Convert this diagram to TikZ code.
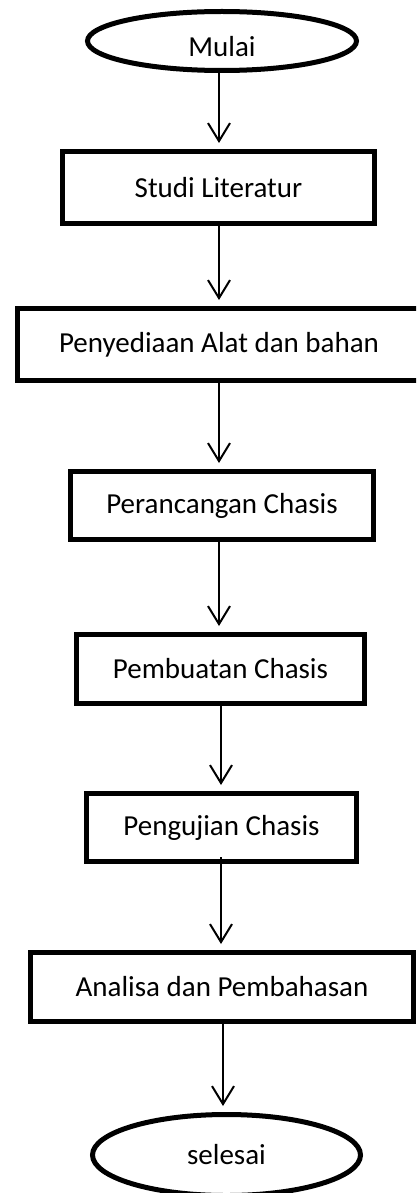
\documentclass[tikz,border=0pt]{standalone}
\usepackage{fontspec}
\setmainfont{Carlito}
\usetikzlibrary{arrows.meta,shapes.geometric}
\begin{document}
\begin{tikzpicture}[x=1pt,y=-1pt,
  label font/.style={font=\fontsize{29}{34}\selectfont},
  stepbox/.style={draw, rectangle, line width=5pt, inner sep=0pt, label font},
  terminal/.style={draw, ellipse, line width=5pt, inner sep=0pt, label font},
  flow/.style={line width=2pt, -{Straight Barb[length=18pt,width=22pt]}, shorten >=6pt}]
  \clip (0,0) rectangle (416,1193);
  \useasboundingbox (0,0) rectangle (416,1193);

  % vertical guide lines for the connectors
  \coordinate (axA) at (219,0);
  \coordinate (axB) at (221,0);
  \coordinate (axC) at (223,0);

  % terminals and process steps
  \node[terminal, minimum width=269pt, minimum height=59pt] (mulai) at (222,41) {\raisebox{-6pt}[\height][\depth]{Mulai}};
  \node[stepbox, minimum width=312pt, minimum height=72pt] (studi) at (218.5,187.5) {Studi Literatur};
  \node[stepbox, minimum width=404pt, minimum height=72pt] (sedia) at (219,344.5) {Penyediaan Alat dan bahan};
  \node[stepbox, minimum width=303pt, minimum height=68pt] (rancang) at (222,505.5) {Perancangan Chasis};
  \node[stepbox, minimum width=288pt, minimum height=69pt] (buat) at (220.5,669) {Pembuatan Chasis};
  \node[stepbox, minimum width=270pt, minimum height=68pt] (uji) at (221.5,827.5) {Pengujian Chasis};
  \node[stepbox, minimum width=383pt, minimum height=69pt] (analisa) at (222,987) {Analisa dan Pembahasan};
  \node[terminal, minimum width=268pt, minimum height=81pt] (selesai) at (226.5,1155) {selesai};

  % connectors
  \draw[flow] (mulai.south -| axA) -- (studi.north -| axA);
  \draw[flow] (studi.south -| axA) -- (sedia.north -| axA);
  \draw[flow] (sedia.south -| axA) -- (rancang.north -| axA);
  \draw[flow] (rancang.south -| axA) -- (buat.north -| axA);
  \draw[flow] (buat.south -| axB) -- (uji.north -| axB);
  \draw[flow] ([yshift=7pt]uji.south -| axB) -- (analisa.north -| axB);
  \draw[flow] (analisa.south -| axC) -- (selesai.north -| axC);
\end{tikzpicture}
\end{document}
